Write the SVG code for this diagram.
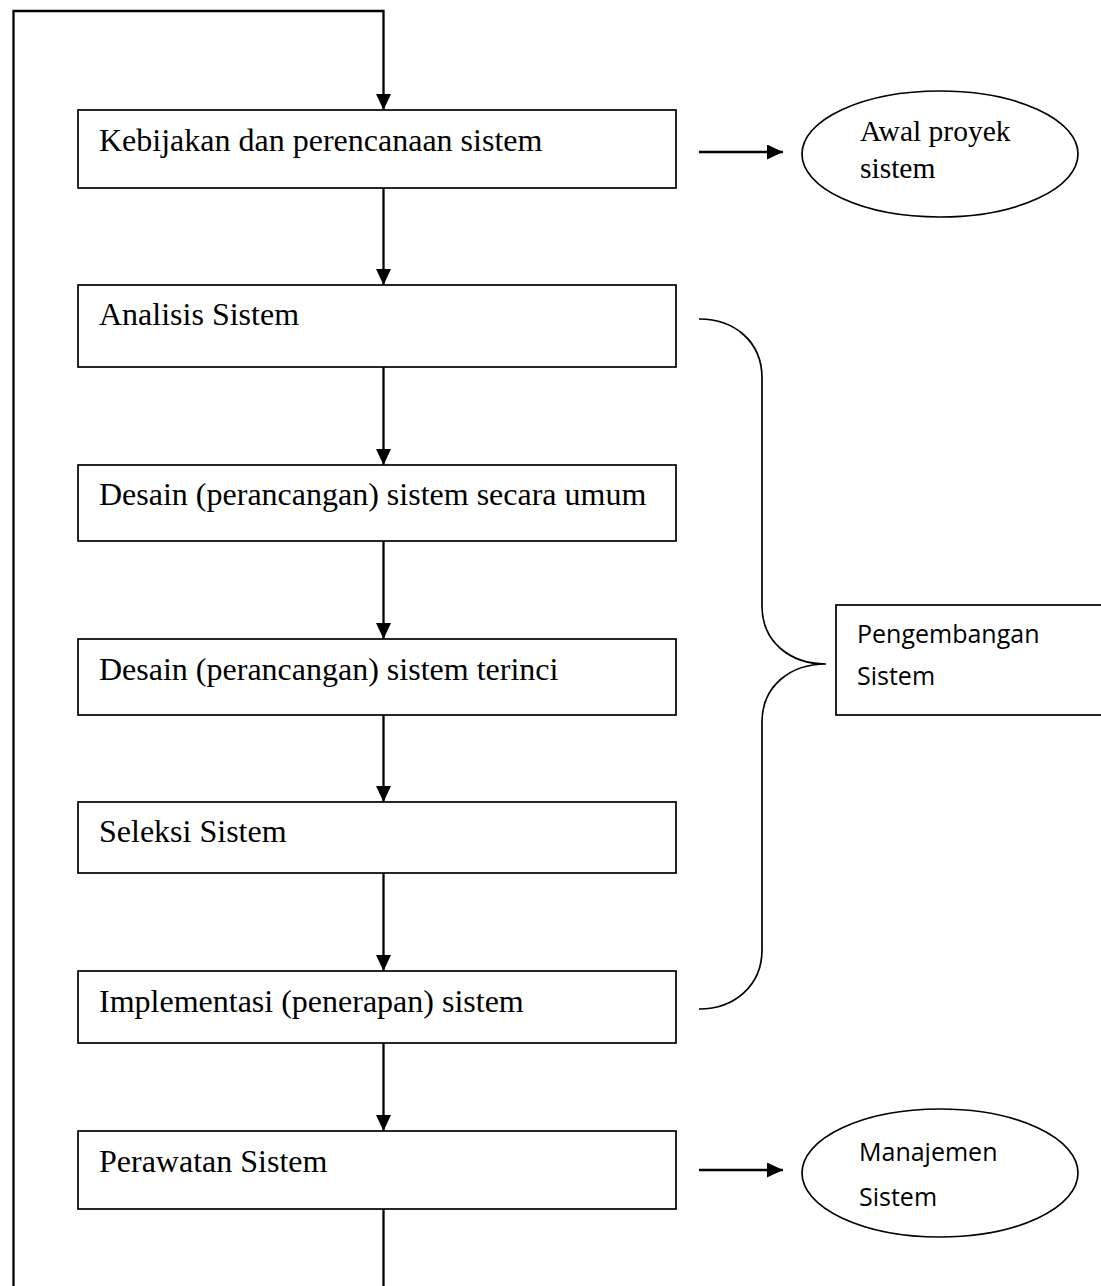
<svg xmlns="http://www.w3.org/2000/svg" width="1101" height="1286" viewBox="0 0 1101 1286">
<style>
.box{fill:#fff;stroke:#000;stroke-width:1.7}
.ell{fill:#fff;stroke:#000;stroke-width:1.7}
.con{fill:none;stroke:#000;stroke-width:2.3}
.brace{fill:none;stroke:#000;stroke-width:1.7}
.t{font-family:"Liberation Serif","Times New Roman",serif;font-size:32px;fill:#000}
.ts{font-family:"Liberation Serif","Times New Roman",serif;font-size:29.5px;fill:#000}
.c{font-family:"Open Sans","Noto Sans",sans-serif;font-size:25px;fill:#000}
</style>
<defs>
<marker id="ah" markerUnits="userSpaceOnUse" markerWidth="17" markerHeight="17" refX="16" refY="7.5" orient="auto">
<path d="M0,0 L16,7.5 L0,15 z" fill="#000"/>
</marker>
</defs>
<g id="connectors">
<path class="con" d="M383.5,1286 L383.5,1209"/>
<path class="con" d="M13.5,1286 L13.5,11 L383.5,11 L383.5,110" marker-end="url(#ah)"/>
<path class="con" d="M383.5,188 L383.5,285" marker-end="url(#ah)"/>
<path class="con" d="M383.5,367 L383.5,465" marker-end="url(#ah)"/>
<path class="con" d="M383.5,541 L383.5,639" marker-end="url(#ah)"/>
<path class="con" d="M383.5,715 L383.5,802" marker-end="url(#ah)"/>
<path class="con" d="M383.5,873 L383.5,971" marker-end="url(#ah)"/>
<path class="con" d="M383.5,1043 L383.5,1131" marker-end="url(#ah)"/>
<path class="con" d="M699,152 L783,152" marker-end="url(#ah)"/>
<path class="con" d="M699,1170 L783,1170" marker-end="url(#ah)"/>
<path class="brace" d="M699,319 C735,319 762,342 762,378 L762,606 C762,642 790,664 826,664 C790,664 762,686 762,722 L762,950 C762,985 735,1009 699,1009"/>
</g>
<g id="n1"><rect class="box" x="78" y="110" width="598" height="78"/><text class="t" x="99" y="151">Kebijakan dan perencanaan sistem</text></g>
<g id="n2"><rect class="box" x="78" y="285" width="598" height="82"/><text class="t" x="99" y="325">Analisis Sistem</text></g>
<g id="n3"><rect class="box" x="78" y="465" width="598" height="76"/><text class="t" x="99" y="505">Desain (perancangan) sistem secara umum</text></g>
<g id="n4"><rect class="box" x="78" y="639" width="598" height="76"/><text class="t" x="99" y="680">Desain (perancangan) sistem terinci</text></g>
<g id="n5"><rect class="box" x="78" y="802" width="598" height="71"/><text class="t" x="99" y="842">Seleksi Sistem</text></g>
<g id="n6"><rect class="box" x="78" y="971" width="598" height="72"/><text class="t" x="99" y="1012">Implementasi (penerapan) sistem</text></g>
<g id="n7"><rect class="box" x="78" y="1131" width="598" height="78"/><text class="t" x="99" y="1172">Perawatan Sistem</text></g>
<g id="awal"><ellipse class="ell" cx="940" cy="154" rx="138" ry="63"/><text class="ts" x="860" y="141">Awal proyek</text><text class="ts" x="860" y="178">sistem</text></g>
<g id="pengembangan"><rect class="box" x="836" y="605" width="266" height="110"/><text class="c" x="857" y="643">Pengembangan</text><text class="c" x="857" y="685">Sistem</text></g>
<g id="manajemen"><ellipse class="ell" cx="940" cy="1173" rx="138" ry="64"/><text class="c" x="859" y="1161">Manajemen</text><text class="c" x="859" y="1206">Sistem</text></g>
</svg>
